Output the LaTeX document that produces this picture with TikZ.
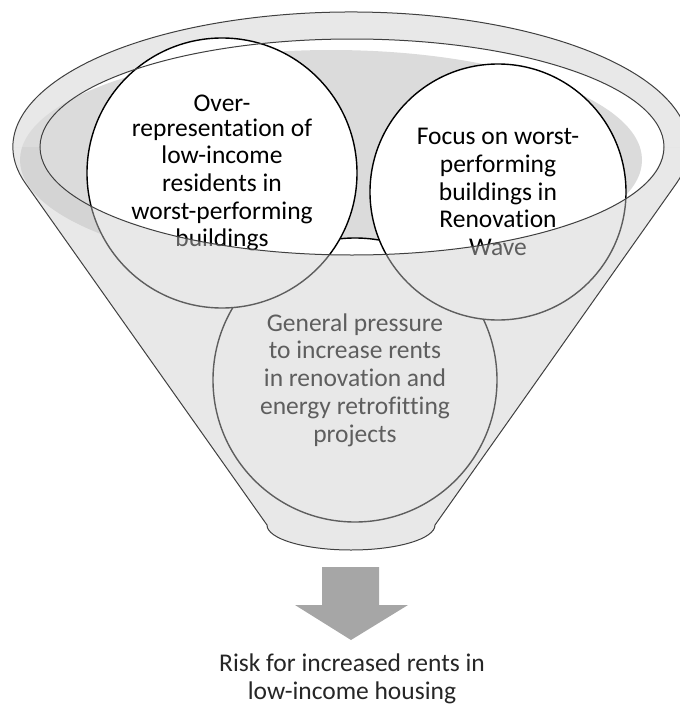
\documentclass[tikz,border=0pt]{standalone}
\usepackage{fontspec}
\setmainfont{Carlito}[RawFeature={-liga;-clig;-dlig}]
\usepackage{tikz}
\definecolor{funnelgray}{HTML}{E8E8E8}
\definecolor{innergray}{HTML}{DBDBDB}
\definecolor{frontgray}{HTML}{CDCDCD}
\definecolor{arrowgray}{HTML}{A6A6A6}
\definecolor{rimline}{HTML}{404040}
\def\funnelpath{(25.4,183.3) arc[start angle=164.4,end angle=375.6,x radius=338,y radius=135] -- (435,525) arc[start angle=0,end angle=180,x radius=84,y radius=25] -- cycle}
\tikzset{
	bubble/.style={circle, draw=black, line width=1.4pt, fill=white, inner sep=0pt, align=center, font=\fontsize{25.5}{27.7}\selectfont},
	rim/.style={draw=rimline, line width=1pt}
}

\begin{document}
\begin{tikzpicture}[x=1pt,y=-1pt]
			%%%%% START %%%%%
			\useasboundingbox (0,0) rectangle (680,707);
			
			% back of the funnel
			\fill[funnelgray] (13,147) arc[start angle=180,end angle=360,x radius=338,y radius=135] -- (663,147) arc[start angle=0,end angle=180,x radius=312,y radius=108] -- cycle;
			\fill[white] (352,147) ellipse[x radius=312,y radius=108];
			\begin{scope}
				\clip \funnelpath;
				\fill[innergray] (331,160) ellipse[x radius=311,y radius=110];
			\end{scope}
			
			% circles
			\node[bubble, minimum size=284pt] (pressure) at (355,380) {General pressure\\to increase rents\\in renovation and\\energy retrofitting\\projects};
			\node[bubble, minimum size=270pt] (overrep) at (222,173) {\raisebox{-3pt}{Over-}\\representation of\\low-income\\residents in\\worst-performing\\buildings};
			\node[bubble, minimum size=256pt] (focus) at (498,192) {Focus on worst-\\performing\\buildings in\\Renovation\\Wave};
			
			% front of the funnel
			\fill[frontgray, fill opacity=0.46] (13,147) arc[start angle=180,end angle=164.4,x radius=338,y radius=135] -- (267,525) arc[start angle=180,end angle=0,x radius=84,y radius=25] -- (676.6,183.3) arc[start angle=15.6,end angle=0,x radius=338,y radius=135] -- (663,147) arc[start angle=0,end angle=180,x radius=312,y radius=108] -- cycle;
			\draw[rim] \funnelpath;
			\draw[rim] (352,147) ellipse[x radius=312,y radius=108];
			
			% arrow and result
			\fill[arrowgray] (322,567) -- (379,567) -- (379,605) -- (408,605) -- (351,640) -- (295,605) -- (322,605) -- cycle;
			\node[font=\fontsize{25.5}{28.5}\selectfont, align=center, inner sep=0pt, text=black!85] (risk) at (352,679) {Risk for increased rents in\\low-income housing};
			
			%%%%% END %%%%%
\end{tikzpicture}
\end{document}
